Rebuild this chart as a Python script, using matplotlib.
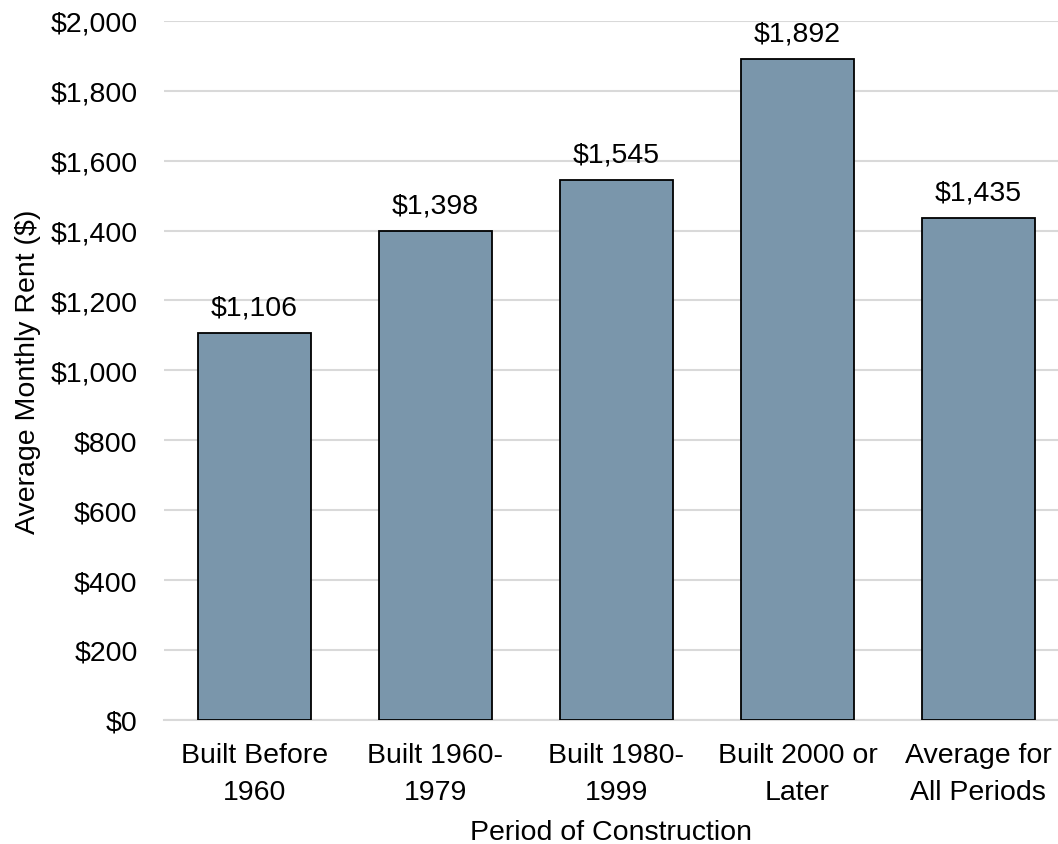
import matplotlib.pyplot as plt

plt.rcParams['font.family'] = ['Liberation Sans', 'DejaVu Sans']

categories = ['Built Before\n1960', 'Built 1960-\n1979', 'Built 1980-\n1999',
              'Built 2000 or\nLater', 'Average for\nAll Periods']
rents = [1106, 1398, 1545, 1892, 1435]
yticks = list(range(0, 2001, 200))

fs = 20.5

fig = plt.figure(figsize=(10.58, 8.45), dpi=100)
ax = fig.add_axes([0.155, 0.147, 0.845, 0.827])

x = range(len(categories))
bars = ax.bar(x, rents, width=0.626, color='#7A96AB', edgecolor='black',
              linewidth=1.3, zorder=3)

for b, v in zip(bars, rents):
    ax.annotate(f'${v:,}', (b.get_x() + b.get_width() / 2, v),
                xytext=(0, 9), textcoords='offset points',
                ha='center', va='bottom', fontsize=fs)

ax.set_xlim(-0.5, 4.44)
ax.set_ylim(0, 2000)
ax.set_yticks(yticks)
ax.set_yticklabels([f'${t:,}' for t in yticks])
ax.set_xticks(list(x))
ax.set_xticklabels(categories, linespacing=1.55)
ax.yaxis.grid(True, color='#D9D9D9', linewidth=1.5, zorder=0)
ax.tick_params(axis='both', length=0, labelsize=fs)
ax.tick_params(axis='y', pad=19)
ax.tick_params(axis='x', pad=16)
for s in ['top', 'right', 'left']:
    ax.spines[s].set_visible(False)
ax.spines['bottom'].set_color('#D9D9D9')
ax.spines['bottom'].set_linewidth(1.5)

ax.set_xlabel('Period of Construction', fontsize=fs, labelpad=10)
ax.set_ylabel('Average Monthly Rent ($)', fontsize=fs, labelpad=7)

fig.savefig('out.png', dpi=100)
